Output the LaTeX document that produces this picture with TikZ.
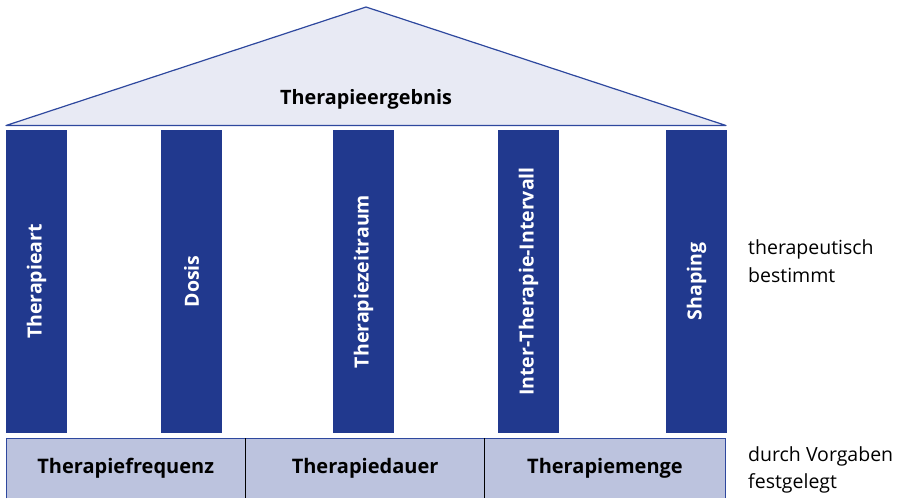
\documentclass[tikz,border=0pt]{standalone}
\usepackage{fontspec}
\setmainfont{Open Sans}
\usepackage{tikz}
\usetikzlibrary{positioning}

\definecolor{pillarblue}{RGB}{33,57,142}
\definecolor{roofline}{RGB}{46,72,158}
\definecolor{rooffill}{RGB}{232,234,244}
\definecolor{basefill}{RGB}{188,195,222}

\begin{document}
\begin{tikzpicture}
  [
  x=1pt,y=-1pt,
  pillar/.style={rectangle,fill=pillarblue,text=white,inner sep=0pt,rotate=90,
    minimum width=303pt,minimum height=61pt,font=\fontsize{19.5}{22}\selectfont\bfseries},
  basebox/.style={rectangle,fill=basefill,inner sep=0pt,
    minimum width=239pt,minimum height=60pt,font=\fontsize{20}{22}\selectfont\bfseries},
  sidetxt/.style={align=left,anchor=west,inner sep=0pt,font=\fontsize{19.5}{27.5}\selectfont}
  ]
  \useasboundingbox (0,0) rectangle (899,498);

  % roof
  \draw [roofline,fill=rooffill,line width=1.2pt,line join=round]
    (6,125.5) -- (366,7) -- (726,125.5) -- cycle;
  \node (roof) at (366,99) {\fontsize{19.8}{22}\selectfont\bfseries Therapieergebnis};

  % pillars
  \node (p1) [pillar] at (36.5,281.5)  {Therapieart};
  \node (p2) [pillar] at (191.5,281.5) {Dosis};
  \node (p3) [pillar] at (363.5,281.5) {Therapiezeitraum};
  \node (p4) [pillar] at (528.5,281.5) {Inter-Therapie-Intervall};
  \node (p5) [pillar] at (696.5,281.5) {Shaping};

  % base
  \node (b1) [basebox,anchor=north west] at (6,438)   {Therapiefrequenz};
  \node (b2) [basebox,anchor=north west] at (b1.north east) {Therapiedauer};
  \node (b3) [basebox,anchor=north west,minimum width=240pt] at (b2.north east) {Therapiemenge};
  \draw [roofline,line width=1pt] (b1.south west) |- (b3.north east) -- (b3.south east);
  \draw [black,line width=0.9pt] (b1.north east) -- (b1.south east);
  \draw [black,line width=0.9pt] (b2.north east) -- (b2.south east);

  % side labels
  \node (st1) [sidetxt] at (748,261) {therapeutisch\\bestimmt};
  \node (st2) [sidetxt] at (748,470) {durch Vorgaben\\festgelegt};
\end{tikzpicture}
\end{document}
